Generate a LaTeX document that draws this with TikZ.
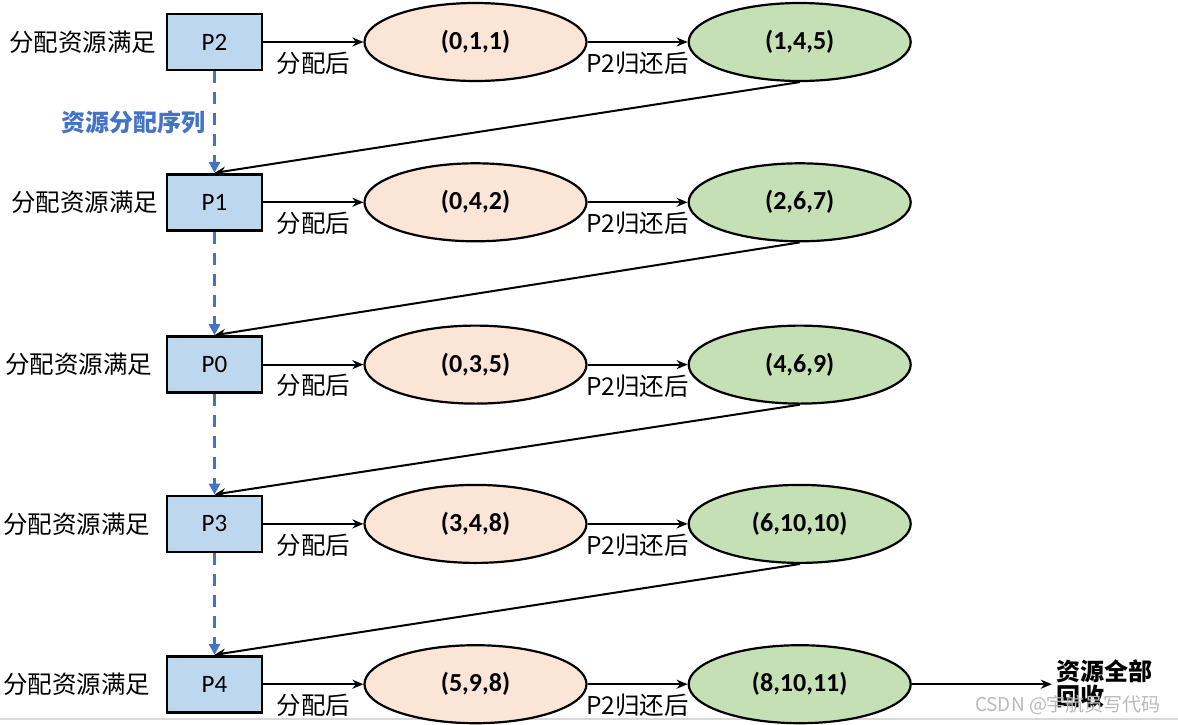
\documentclass[tikz,border=0pt]{standalone}
\usepackage{fontspec}
\setmainfont{Carlito}
\newfontfamily\cjk{Noto Sans CJK SC}
\usetikzlibrary{positioning,arrows.meta,shapes.geometric}
\definecolor{boxblue}{HTML}{BDD7EE}
\definecolor{peach}{HTML}{FBE5D6}
\definecolor{leaf}{HTML}{C5E0B4}
\definecolor{seqblue}{HTML}{4472C4}

\begin{document}
\begin{tikzpicture}[
        x=1pt, y=-1pt,
        node distance=100pt,
        font=\fontsize{25}{29}\selectfont,
        proc/.style={rectangle, draw, line width=2.8pt, fill=boxblue,
            minimum width=95pt, minimum height=56pt},
        before/.style={ellipse, draw, line width=2.2pt, fill=peach,
            minimum width=222pt, minimum height=78pt, inner sep=0pt,
            font=\fontsize{26}{30}\selectfont\bfseries},
        after/.style={before, fill=leaf},
        cond/.style={font=\cjk\fontsize{24.5}{28}\selectfont},
        note/.style={below, inner sep=2pt, yshift=-7pt, font=\cjk\fontsize{24.5}{28}\selectfont},
        line/.style={draw, -{Stealth[length=11pt, width=9pt]}, line width=2pt},
        seq/.style={draw=seqblue, line width=3pt, dash pattern=on 12pt off 9pt,
            -{Triangle[length=11pt, width=11pt]}}
    ]
    \useasboundingbox (0,0) rectangle (1178,724);
    \draw [gray!30, line width=1.5pt] (0,719) -- (1178,719);

    % process boxes, top to bottom in the order of the sequence
    \node [proc] (p2) at (214.5,42) {P2};
    \node [proc, below=101.5pt of p2] (p1) {P1};
    \node [proc, below=103.5pt of p1] (p0) {P0};
    \node [proc, below=100.5pt of p0] (p3) {P3};
    \node [proc, below=101.5pt of p3] (p4) {P4};

    \node [cond, left=6pt of p2] (c2) {分配资源满足};
    \node [cond, left=4pt of p1] (c1) {分配资源满足};
    \node [cond, left=10pt of p0] (c0) {分配资源满足};
    \node [cond, left=12pt of p3] (c3) {分配资源满足};
    \node [cond, left=12pt of p4] (c4) {分配资源满足};

    % available vectors
    \node [before, right=of p2] (a2) {(0,1,1)};
    \node [after, right=of a2] (b2) {(1,4,5)};
    \node [before, right=of p1] (a1) {(0,4,2)};
    \node [after, right=of a1] (b1) {(2,6,7)};
    \node [before, right=of p0] (a0) {(0,3,5)};
    \node [after, right=of a0] (b0) {(4,6,9)};
    \node [before, right=of p3] (a3) {(3,4,8)};
    \node [after, right=of a3] (b3) {(6,10,10)};
    \node [before, right=of p4] (a4) {(5,9,8)};
    \node [after, right=of a4] (b4) {(8,10,11)};
    \coordinate [right=140pt of b4] (done);

    \path [line] (p2) -- node [note] {分配后} (a2);
    \path [line] (a2) -- node [note] {P2\cjk 归还后} (b2);
    \path [line] (p1) -- node [note] {分配后} (a1);
    \path [line] (a1) -- node [note] {P2\cjk 归还后} (b1);
    \path [line] (p0) -- node [note] {分配后} (a0);
    \path [line] (a0) -- node [note] {P2\cjk 归还后} (b0);
    \path [line] (p3) -- node [note] {分配后} (a3);
    \path [line] (a3) -- node [note] {P2\cjk 归还后} (b3);
    \path [line] (p4) -- node [note] {分配后} (a4);
    \path [line] (a4) -- node [note] {P2\cjk 归还后} (b4);

    \path [line] (b2.south) -- (p1.north);
    \path [line] (b1.south) -- (p0.north);
    \path [line] (b0.south) -- (p3.north);
    \path [line] (b3.south) -- (p4.north);
    \path [line] (b4) -- (done)
        node [right, align=left, inner sep=4pt,
            font=\cjk\bfseries\fontsize{24}{25}\selectfont] (all) {资源全部\\回收};

    \path [seq] (p2) -- node [left, inner sep=8pt, text=seqblue,
        font=\cjk\bfseries\fontsize{24}{28}\selectfont] (order) {资源分配序列} (p1);
    \path [seq] (p1) -- (p0);
    \path [seq] (p0) -- (p3);
    \path [seq] (p3) -- (p4);

    \node [text=gray!55, font=\cjk\fontsize{19}{22}\selectfont] (mark) at (1068,705) {CSDN @宇航员写代码};
\end{tikzpicture}
\end{document}
